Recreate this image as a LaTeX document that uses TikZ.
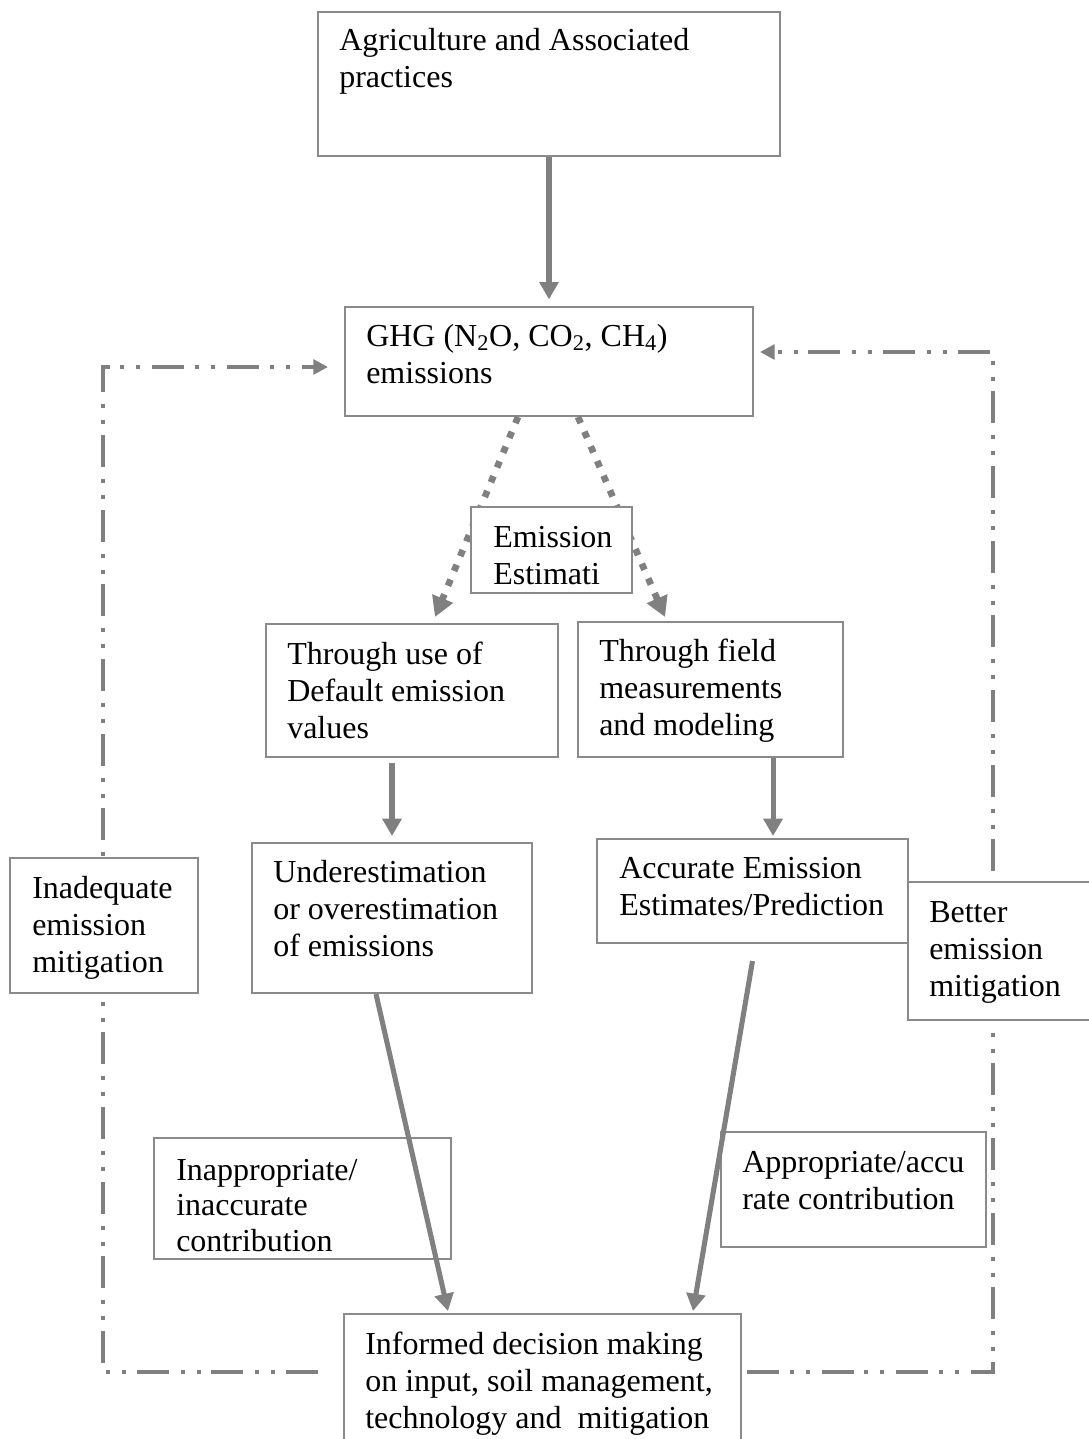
\documentclass[tikz,border=0pt]{standalone}
\usepackage{fontspec}
\setmainfont{Liberation Serif}
\usetikzlibrary{arrows.meta,fit,backgrounds}
\definecolor{lc}{RGB}{128,128,128}
\definecolor{bc}{RGB}{138,138,138}
\begin{document}
\begin{tikzpicture}[x=0.75pt,y=-0.75pt,
  box/.style={draw=bc, line width=1.5pt, fill=white, inner sep=0pt, rectangle},
  txt/.style={anchor=base west, inner sep=0pt, align=left, font=\fontsize{24}{27.75}\selectfont},
  sarrow/.style={draw=lc, line width=3.8pt, -{Triangle[length=13pt,width=14pt]}},
  dotarrow/.style={draw=lc, line width=5pt, dash pattern=on 5pt off 7pt, -{Triangle[length=15pt,width=16pt]}},
  ddline/.style={draw=lc, line width=3pt, dash pattern=on 24pt off 8pt on 3pt off 9pt on 3pt off 9pt, -{Triangle[length=11pt,width=11pt]}},
]
\useasboundingbox (0,0) rectangle (1089,1439);

% boxes
\node[box, fit={(318,12) (780,156)}] (A) {};
\node[box, fit={(345,307) (753,416)}] (GHG) {};
\node[box, fit={(266,624) (558,757)}] (def) {};
\node[box, fit={(578,622) (843,757)}] (field) {};
\node[box, fit={(252,843) (532,993)}] (under) {};
\node[box, fit={(597,839) (908,943)}] (acc) {};
\node[box, fit={(10,858) (198,993)}] (inad) {};
\node[box, fit={(908,882) (1095,1020)}] (better) {};
\node[box, fit={(154,1138) (451,1259)}] (inapp) {};
\node[box, fit={(721,1132) (986,1247)}] (app) {};
\node[box, fit={(344,1314) (741,1460)}] (dec) {};

% texts (anchor = baseline of the last line)
\node[txt] (tA) at (339,87) {Agriculture and Associated\\practices};
\node[txt] (tGHG) at (366,383) {GHG (N\textsubscript{2}O, CO\textsubscript{2}, CH\textsubscript{4})\\emissions};
\node[txt] (tdef) at (287,738) {Through use of\\Default emission\\values};
\node[txt] (tfield) at (599,735) {Through field\\measurements\\and modeling};
\node[txt] (tunder) at (273,956) {Underestimation\\or overestimation\\of emissions};
\node[txt] (tacc) at (619,915) {Accurate Emission\\Estimates/Prediction};
\node[txt] (tinad) at (32,972) {Inadequate\\emission\\mitigation};
\node[txt] (tbetter) at (929,996) {Better\\emission\\mitigation};
\node[txt, font=\fontsize{24}{26.5}\selectfont] (tinapp) at (176,1251) {Inappropriate/\\inaccurate\\contribution};
\node[txt] (tapp) at (742,1209) {Appropriate/accu\\rate contribution};
\node[txt] (tdec) at (365,1428) {Informed decision making\\on input, soil management,\\technology and\ \ mitigation};

\coordinate (yb) at (0,1372);
\coordinate (Lc1) at (103,1372);
\coordinate (Lc2) at (103,367);
\coordinate (Rc1) at (993,1372);
\coordinate (Rc2) at (993,352);

\begin{scope}[on background layer]
\draw[ddline, shorten <=18.75pt, shorten >=12pt] (dec.west |- yb) -- (Lc1) -- (Lc2) -- (GHG.west |- Lc2);
\draw[ddline, shorten <=3.75pt, shorten >=4.5pt] (dec.east |- yb) -- (Rc1) -- (Rc2) -- (GHG.east |- Rc2);
\end{scope}

% dotted arrows, then estimation box on top
\draw[dotarrow] ([xshift=-23.25pt]GHG.south) -- ([xshift=17.25pt,yshift=4.5pt]def.north);
\draw[dotarrow] ([xshift=21.75pt]GHG.south) -- ([xshift=-34.1pt,yshift=3pt]field.north);
\node[box, fit={(471,507) (632,593)}] (est) {};
\begin{scope}
\clip (471,507) rectangle (632,585);
\node[txt] (test) at (493,584) {Emission\\Estimati};
\end{scope}

% solid arrows
\draw[sarrow, shorten >=5pt] (A) -- (GHG);
\draw[sarrow] ([yshift=-3.75pt]def.south -| under.north) -- ([yshift=4.5pt]under.north);
\draw[sarrow] ([xshift=15.4pt]acc.north |- field.south) -- ([xshift=15.4pt,yshift=1.5pt]acc.north);
\draw[sarrow] ([xshift=-12pt]under.south) -- ([xshift=-70.9pt,yshift=1.5pt]dec.north);
\draw[sarrow] ([yshift=-12.75pt]acc.south) -- ([xshift=112.9pt,yshift=1.5pt]dec.north);
\end{tikzpicture}
\end{document}
